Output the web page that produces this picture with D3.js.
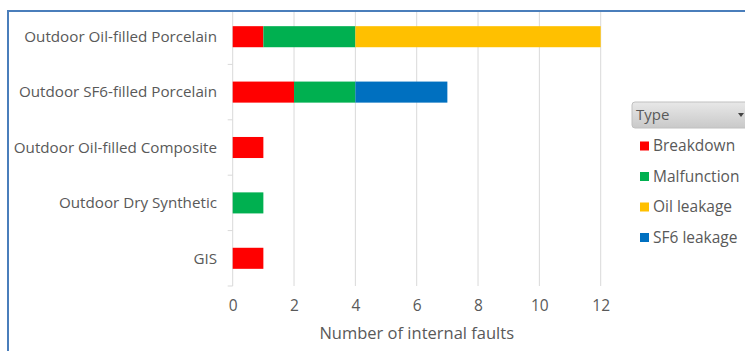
<!DOCTYPE html>
<html>
<head>
<meta charset="utf-8">
<script src="https://cdn.jsdelivr.net/npm/d3@7"></script>
<style>
  html, body { margin: 0; padding: 0; background: #fff; }
  svg { display: block; font-family: "Open Sans", "Noto Sans", sans-serif; }
</style>
</head>
<body>
<svg id="chart" width="745" height="351"></svg>
<script>
// Insulation types (top to bottom) and fault counts per failure type
const categories = [
  "Outdoor Oil-filled Porcelain",
  "Outdoor SF6-filled Porcelain",
  "Outdoor Oil-filled Composite",
  "Outdoor Dry Synthetic",
  "GIS"
];
const faultTypes = ["Breakdown", "Malfunction", "Oil leakage", "SF6 leakage"];
const breakdown   = [1, 2, 1, 0, 1];
const malfunction = [3, 2, 0, 1, 0];
const oilLeakage  = [8, 0, 0, 0, 0];
const sf6Leakage  = [0, 3, 0, 0, 0];
const xTicks = [0, 2, 4, 6, 8, 10, 12];
const colors = ["#FF0000", "#00B050", "#FFC000", "#0070C0"];

const rows = categories.map((c, i) => ({
  category: c,
  "Breakdown": breakdown[i],
  "Malfunction": malfunction[i],
  "Oil leakage": oilLeakage[i],
  "SF6 leakage": sf6Leakage[i]
}));

const svg = d3.select("#chart");
const W = 745, H = 351;
const plot = { left: 232.7, right: 600.7, top: 9, bottom: 286 };

const x = d3.scaleLinear().domain([0, 12]).range([plot.left, plot.right]);
const y = d3.scaleBand().domain(categories).range([plot.top, plot.bottom]).paddingInner(0.62).paddingOuter(0.31);
const color = d3.scaleOrdinal().domain(faultTypes).range(colors);
const textColor = "#595959";

// vertical gridlines
svg.append("g")
  .selectAll("line")
  .data(xTicks.filter(t => t > 0))
  .join("line")
  .attr("x1", d => x(d)).attr("x2", d => x(d))
  .attr("y1", plot.top + 3).attr("y2", plot.bottom)
  .attr("stroke", "#d9d9d9").attr("stroke-width", 1);

// category axis with small tick marks between rows
svg.append("line")
  .attr("x1", plot.left).attr("x2", plot.left)
  .attr("y1", plot.top + 3).attr("y2", plot.bottom)
  .attr("stroke", "#d9d9d9");
svg.append("g")
  .selectAll("line")
  .data(d3.range(1, categories.length + 1))
  .join("line")
  .attr("x1", plot.left - 5).attr("x2", plot.left)
  .attr("y1", i => plot.top + i * (plot.bottom - plot.top) / categories.length)
  .attr("y2", i => plot.top + i * (plot.bottom - plot.top) / categories.length)
  .attr("stroke", "#d9d9d9");

svg.append("g")
  .selectAll("text")
  .data(categories)
  .join("text")
  .attr("x", 217)
  .attr("y", d => y(d) + y.bandwidth() / 2)
  .attr("dy", "0.35em")
  .attr("text-anchor", "end")
  .attr("font-size", 15.2)
  .attr("fill", textColor)
  .text(d => d);

// stacked bars
const stacked = d3.stack().keys(faultTypes)(rows);
svg.append("g")
  .selectAll("g")
  .data(stacked)
  .join("g")
  .attr("fill", d => color(d.key))
  .selectAll("rect")
  .data(d => d.filter(s => s[1] - s[0] > 0))
  .join("rect")
  .attr("x", d => x(d[0]))
  .attr("width", d => x(d[1]) - x(d[0]))
  .attr("y", d => y(d.data.category))
  .attr("height", y.bandwidth());

// value axis labels
const xAxis = d3.axisBottom(x).tickValues(xTicks).tickSize(0).tickPadding(0);
const gx = svg.append("g").attr("transform", `translate(0, ${plot.bottom})`).call(xAxis);
gx.select(".domain").remove();
gx.selectAll("text")
  .attr("y", 20)
  .attr("dy", "0.35em")
  .attr("font-size", 15.5)
  .attr("font-family", "\"Open Sans\", \"Noto Sans\", sans-serif")
  .attr("fill", textColor);

svg.append("text")
  .attr("x", x(6))
  .attr("y", 333)
  .attr("dy", "0.35em")
  .attr("text-anchor", "middle")
  .attr("font-size", 16.5)
  .attr("fill", textColor)
  .text("Number of internal faults");

// legend header (filter-style button)
const defs = svg.append("defs");
const grad = defs.append("linearGradient").attr("id", "hdr").attr("x1", 0).attr("y1", 0).attr("x2", 0).attr("y2", 1);
grad.append("stop").attr("offset", 0).attr("stop-color", "#e8e8e8");
grad.append("stop").attr("offset", 1).attr("stop-color", "#c9c9c9");

const legend = svg.append("g");
legend.append("rect")
  .attr("x", 632).attr("y", 102).attr("width", 130).attr("height", 26)
  .attr("rx", 3)
  .attr("fill", "url(#hdr)")
  .attr("stroke", "#c0c0c0");
legend.append("text")
  .attr("x", 636).attr("y", 115).attr("dy", "0.35em")
  .attr("font-size", 15).attr("fill", textColor)
  .text("Type");
legend.append("path")
  .attr("d", "M738,113 L744,113 L741,117 Z")
  .attr("fill", "#444");

const items = legend.selectAll("g.item")
  .data(faultTypes)
  .join("g")
  .attr("class", "item")
  .attr("transform", (d, i) => `translate(640, ${146 + i * 30.5})`);
items.append("rect")
  .attr("x", 0).attr("y", -4.5).attr("width", 9).attr("height", 9)
  .attr("fill", d => color(d));
items.append("text")
  .attr("x", 13).attr("dy", "0.35em")
  .attr("font-size", 15.5).attr("fill", textColor)
  .text(d => d);

// outer frame (left and top edges visible)
svg.append("path")
  .attr("d", `M8,${H} L8,11 L${W},11`)
  .attr("fill", "none")
  .attr("stroke", "#4a7ebb")
  .attr("stroke-width", 2);
</script>
</body>
</html>
